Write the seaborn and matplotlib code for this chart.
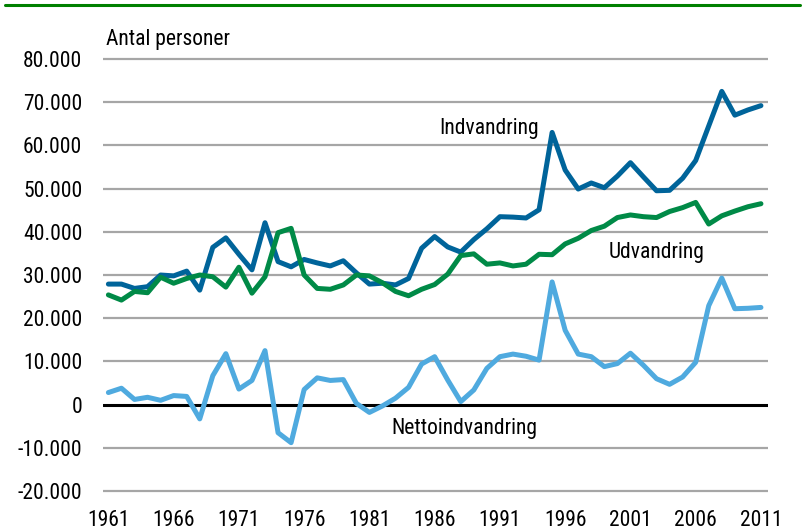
import numpy as np
import matplotlib
matplotlib.use("Agg")
import matplotlib.pyplot as plt
from matplotlib.lines import Line2D
from matplotlib import font_manager
import pandas as pd
import seaborn as sns

years = list(range(1961, 2012))

indvandring = [27.9, 27.9, 26.9, 27.3, 30.0, 29.8, 30.9, 26.5, 36.4, 38.6,
               34.8, 31.2, 42.1, 33.1, 31.9, 33.6, 32.8, 32.1, 33.3, 30.5,
               27.9, 28.1, 27.7, 29.2, 36.2, 38.9, 36.5, 35.3, 38.2, 40.7,
               43.5, 43.4, 43.2, 45.1, 63.0, 54.3, 49.9, 51.3, 50.2, 52.9,
               56.0, 52.7, 49.5, 49.6, 52.4, 56.5, 64.5, 72.5, 67.0, 68.2, 69.2]

udvandring = [25.4, 24.2, 26.2, 25.9, 29.5, 28.1, 29.2, 30.0, 29.6, 27.2,
              31.8, 25.8, 29.6, 39.8, 40.8, 30.0, 26.9, 26.7, 27.7, 30.0,
              29.8, 28.2, 26.2, 25.2, 26.7, 27.8, 30.2, 34.5, 34.9, 32.5,
              32.8, 32.1, 32.5, 34.8, 34.7, 37.2, 38.5, 40.3, 41.3, 43.3,
              43.9, 43.5, 43.3, 44.7, 45.6, 46.8, 41.8, 43.7, 44.8, 45.8, 46.5]

netto = [2.8, 3.8, 1.2, 1.7, 1.0, 2.1, 1.9, -3.3, 6.7, 11.8,
         3.6, 5.6, 12.5, -6.5, -8.8, 3.5, 6.2, 5.6, 5.8, 0.3,
         -1.8, -0.3, 1.5, 4.0, 9.4, 11.1, 5.7, 0.7, 3.4, 8.4,
         11.1, 11.7, 11.2, 10.3, 28.4, 17.2, 11.7, 11.1, 8.8, 9.5,
         11.9, 9.1, 6.0, 4.7, 6.4, 9.8, 22.9, 29.3, 22.2, 22.3, 22.5]

series_names = ["Indvandring", "Udvandring", "Nettoindvandring"]
colors = ["#00649a", "#008a47", "#4faadf"]

df = pd.DataFrame({
    "year": years * 3,
    "value": np.array(indvandring + udvandring + netto) * 1000,
    "serie": sum([[n] * len(years) for n in series_names], []),
})

sns.set_style("white")
# pick a narrow face if one is there
names = {f.name for f in font_manager.fontManager.ttflist}
narrow = [n for n in ["Liberation Sans Narrow", "DejaVu Sans Condensed", "Roboto Condensed"] if n in names]
plt.rcParams["font.family"] = narrow + ["DejaVu Sans"]
plt.rcParams["font.stretch"] = "condensed"
plt.rcParams["text.color"] = "black"

fs = 15.5

fig = plt.figure(figsize=(8.06, 5.32), dpi=100)
ax = fig.add_axes([0.128, 0.0729, 0.825, 0.8203])

yticks = np.arange(-20000, 80001, 10000)
for yt in yticks:
    if yt == 0:
        ax.axhline(yt, color="black", lw=2.2, zorder=1)
    else:
        ax.axhline(yt, color="#a6a6a6", lw=1.6, zorder=1)

sns.lineplot(data=df, x="year", y="value", hue="serie", hue_order=series_names,
             palette=colors, lw=3.6, legend=False, ax=ax, zorder=3)

ax.set_xlim(1960.6, 2011.55)
ax.set_ylim(-20500, 80500)
ax.set_yticks(yticks)
ax.set_yticklabels([f"{v:,.0f}".replace(",", ".") for v in yticks], fontsize=fs)
xticks = list(range(1961, 2012, 5))
ax.set_xticks(xticks)
ax.set_xticklabels([str(x) for x in xticks], fontsize=fs)
ax.tick_params(axis="both", length=0, colors="black")
ax.tick_params(axis="x", pad=12)
ax.tick_params(axis="y", pad=15)
ax.set_xlabel("")
ax.set_ylabel("")
for s in ax.spines.values():
    s.set_visible(False)

fig.text(0.131, 0.925, "Antal personer", fontsize=fs, ha="left", va="center")
ax.text(1990.2, 64000, "Indvandring", fontsize=fs, ha="center", va="center")
ax.text(2003.0, 35200, "Udvandring", fontsize=fs, ha="center", va="center")
ax.text(1988.3, -5600, "Nettoindvandring", fontsize=fs, ha="center", va="center")

fig.add_artist(Line2D([0.006, 0.993], [0.99, 0.99], color="#008000", lw=2.2,
                      transform=fig.transFigure))

fig.savefig("out.png", dpi=100)
